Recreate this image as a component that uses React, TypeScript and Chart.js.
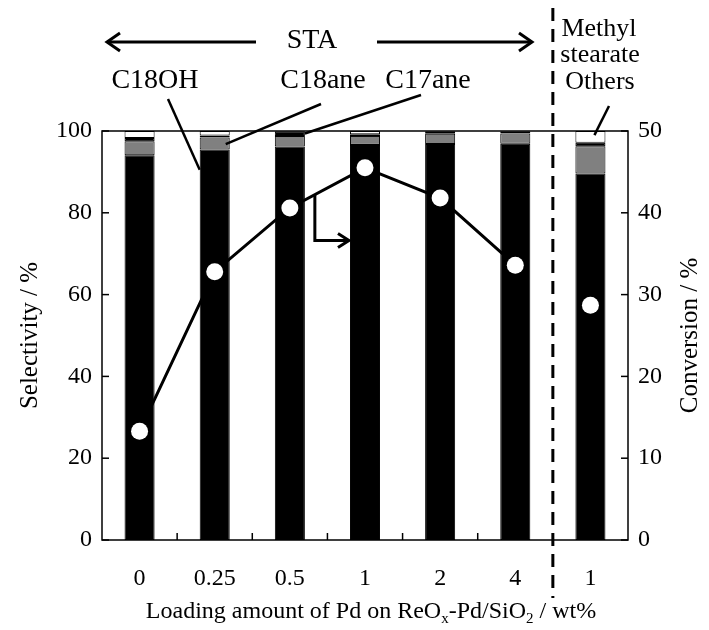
import React, { useEffect, useRef } from 'react';
import { Chart, registerables } from 'chart.js';

Chart.register(...registerables);

// ---- data ----
const categories = ['0', '0.25', '0.5', '1', '2', '4', '1'];
const c18oh = [94.1, 95.5, 96.2, 96.6, 96.8, 96.9, 89.6];
const c18ane = [3.4, 2.9, 2.6, 2.2, 2.5, 2.5, 6.7];
const c17ane = [0.8, 0.5, 1.0, 0.4, 0.5, 0.4, 0.8];
const others = [1.7, 1.1, 0.2, 0.8, 0.2, 0.2, 2.9];
const conversion = [13.3, 32.8, 40.6, 45.5, 41.8, 33.6, 28.7];
const selectivityTicks = [0, 20, 40, 60, 80, 100];
const conversionTicks = [0, 10, 20, 30, 40, 50];

const FONT = '"Liberation Serif", "Times New Roman", serif';
const FS = 24;

function line(ctx: CanvasRenderingContext2D, x1: number, y1: number, x2: number, y2: number) {
  ctx.beginPath();
  ctx.moveTo(x1, y1);
  ctx.lineTo(x2, y2);
  ctx.stroke();
}

function arrowHead(ctx: CanvasRenderingContext2D, x: number, y: number, dir: number, len = 13, spread = 9) {
  ctx.beginPath();
  ctx.moveTo(x - dir * len, y - spread);
  ctx.lineTo(x, y);
  ctx.lineTo(x - dir * len, y + spread);
  ctx.stroke();
}

const annotPlugin = {
  id: 'annot',
  afterDatasetsDraw(chart: any) {
    const { ctx, chartArea: ca, scales } = chart;
    const xs = scales.x, ys = scales.y, y1s = scales.y1;
    const step = xs.getPixelForValue(1) - xs.getPixelForValue(0);
    const halfBar = step * 0.2;
    ctx.save();
    ctx.strokeStyle = '#000';
    ctx.fillStyle = '#000';
    ctx.lineCap = 'butt';

    // frame
    ctx.lineWidth = 1.5;
    ctx.strokeRect(ca.left, ca.top, ca.right - ca.left, ca.bottom - ca.top);

    // inward ticks
    const tl = 7;
    selectivityTicks.forEach((v) => {
      const py = ys.getPixelForValue(v);
      line(ctx, ca.left, py, ca.left + tl, py);
    });
    conversionTicks.forEach((v) => {
      const py = y1s.getPixelForValue(v);
      line(ctx, ca.right - tl, py, ca.right, py);
    });
    for (let i = 0; i < categories.length - 1; i++) {
      const px = xs.getPixelForValue(i) + step / 2;
      line(ctx, px, ca.bottom, px, ca.bottom - tl);
    }

    // dashed separator
    const xd = xs.getPixelForValue(5) + step / 2;
    ctx.lineWidth = 3;
    ctx.setLineDash([13, 8]);
    line(ctx, xd, 8, xd, 598);
    ctx.setLineDash([]);

    // texts
    ctx.textAlign = 'center';
    ctx.textBaseline = 'middle';
    ctx.font = `28px ${FONT}`;
    ctx.fillText('STA', 312, 41);
    ctx.fillText('C18OH', 155, 81);
    ctx.fillText('C18ane', 323, 81);
    ctx.fillText('C17ane', 428, 81);
    ctx.font = `26px ${FONT}`;
    ctx.fillText('Methyl', 599, 29);
    ctx.fillText('stearate', 600, 55);
    ctx.fillText('Others', 600, 82);

    // STA arrows
    ctx.lineWidth = 3;
    line(ctx, 107, 42, 256, 42);
    arrowHead(ctx, 107, 42, -1);
    line(ctx, 377, 42, 532, 42);
    arrowHead(ctx, 532, 42, 1);

    // leader lines
    ctx.lineWidth = 2.5;
    line(ctx, 168, 99, xs.getPixelForValue(1) - halfBar, ys.getPixelForValue(90.5));
    line(ctx, 321, 104, xs.getPixelForValue(1) + 11, ys.getPixelForValue(96.8));
    line(ctx, 421, 95, xs.getPixelForValue(2) + halfBar, ys.getPixelForValue(99.4));
    line(ctx, 609, 106, xs.getPixelForValue(6) + 4, ys.getPixelForValue(99));

    // conversion axis pointer arrow
    const xa = xs.getPixelForValue(2), xb = xs.getPixelForValue(3);
    const ya = y1s.getPixelForValue(conversion[2]), yb = y1s.getPixelForValue(conversion[3]);
    const sx = xa + 25;
    const sy = ya + (yb - ya) * ((sx - xa) / (xb - xa));
    const hy = sy + 46;
    const ex = xb - halfBar - 1;
    ctx.lineWidth = 3;
    ctx.beginPath();
    ctx.moveTo(sx, sy);
    ctx.lineTo(sx, hy);
    ctx.lineTo(ex, hy);
    ctx.stroke();
    arrowHead(ctx, ex, hy, 1, 11, 7);

    // axis titles
    ctx.font = `25px ${FONT}`;
    ctx.save();
    ctx.translate(30, (ca.top + ca.bottom) / 2);
    ctx.rotate(-Math.PI / 2);
    ctx.fillText('Selectivity / %', 0, 0);
    ctx.restore();
    ctx.save();
    ctx.translate(690, (ca.top + ca.bottom) / 2);
    ctx.rotate(-Math.PI / 2);
    ctx.fillText('Conversion / %', 0, 0);
    ctx.restore();

    // x title with subscripts
    const parts: [string, boolean][] = [
      ['Loading amount of Pd on ReO', false],
      ['x', true],
      ['-Pd/SiO', false],
      ['2', true],
      [' / wt%', false],
    ];
    const subFS = Math.round(FS * 0.62);
    let total = 0;
    parts.forEach(([t, sub]) => {
      ctx.font = `${sub ? subFS : FS}px ${FONT}`;
      total += ctx.measureText(t).width;
    });
    let cx = 371 - total / 2;
    const ty = 612;
    ctx.textAlign = 'left';
    parts.forEach(([t, sub]) => {
      ctx.font = `${sub ? subFS : FS}px ${FONT}`;
      ctx.fillText(t, cx, sub ? ty + 7 : ty);
      cx += ctx.measureText(t).width;
    });

    ctx.restore();
  },
};

export default function App() {
  const ref = useRef<HTMLCanvasElement | null>(null);
  useEffect(() => {
    document.body.style.margin = '0';
    if (!ref.current) return;
    const barCommon = {
      yAxisID: 'y',
      order: 1,
      stack: 's',
      borderColor: '#000',
      borderWidth: 1,
      borderSkipped: false,
    };
    const chart = new Chart(ref.current, {
      type: 'bar',
      data: {
        labels: categories,
        datasets: [
          {
            type: 'line',
            label: 'Conversion',
            data: conversion,
            yAxisID: 'y1',
            order: 0,
            borderColor: '#000',
            borderWidth: 3,
            pointRadius: 8.5,
            pointBackgroundColor: '#fff',
            pointBorderColor: '#fff',
            pointBorderWidth: 0,
            segment: {
              borderColor: (c: any) => (c.p1DataIndex === 6 ? 'rgba(0,0,0,0)' : '#000'),
            },
          } as any,
          { ...barCommon, label: 'C18OH', data: c18oh, backgroundColor: '#000' },
          { ...barCommon, label: 'C18ane', data: c18ane, backgroundColor: '#808080' },
          { ...barCommon, label: 'C17ane', data: c17ane, backgroundColor: '#000' },
          { ...barCommon, label: 'Others', data: others, backgroundColor: '#fff' },
        ] as any,
      },
      options: {
        responsive: false,
        animation: false,
        layout: { padding: { top: 131, left: 0, right: 0, bottom: 0 } },
        plugins: { legend: { display: false }, tooltip: { enabled: false } },
        datasets: { bar: { categoryPercentage: 1, barPercentage: 0.4 } },
        scales: {
          x: {
            stacked: true,
            grid: { display: false, drawTicks: false },
            border: { display: false },
            ticks: { font: { family: FONT, size: FS }, color: '#000', padding: 24 },
            afterFit: (s: any) => { s.height = 90; },
          },
          y: {
            stacked: true,
            min: 0,
            max: 100,
            grid: { display: false, drawTicks: false },
            border: { display: false },
            ticks: { stepSize: 20, font: { family: FONT, size: FS }, color: '#000', padding: 10 },
            afterFit: (s: any) => { s.width = 102; },
          },
          y1: {
            position: 'right',
            min: 0,
            max: 50,
            grid: { display: false, drawTicks: false },
            border: { display: false },
            ticks: { stepSize: 10, font: { family: FONT, size: FS }, color: '#000', padding: 10 },
            afterFit: (s: any) => { s.width = 709 - 628; },
          },
        },
      } as any,
      plugins: [annotPlugin],
    });
    return () => chart.destroy();
  }, []);
  return (
    <div style={{ width: 709, height: 630 }}>
      <canvas ref={ref} width={709} height={630} />
    </div>
  );
}
